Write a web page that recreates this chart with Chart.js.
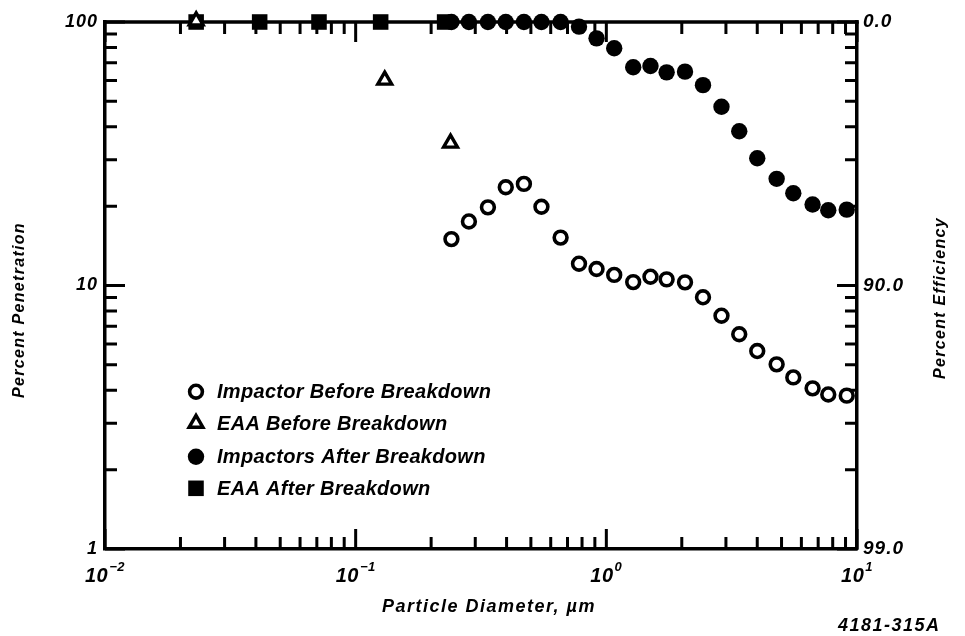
<!DOCTYPE html>
<html>
<head>
<meta charset="utf-8">
<script src="https://cdn.jsdelivr.net/npm/chart.js@4/dist/chart.umd.min.js"></script>
<style>
  html, body { margin: 0; padding: 0; background: #fff; }
  #wrap { width: 965px; height: 636px; position: relative; }
</style>
</head>
<body>
<div id="wrap"><canvas id="c" width="965" height="636"></canvas></div>
<script>
// Particle diameters (µm) for the cascade impactor stages
const particleSizes = [0.241, 0.283, 0.337, 0.397, 0.469, 0.551, 0.657, 0.778, 0.914, 1.075, 1.28, 1.50, 1.74, 2.06, 2.43, 2.88, 3.39, 4.00, 4.78, 5.57, 6.65, 7.68, 9.10];
// Percent penetration measured by impactors
const impactorBefore = [15.0, 17.5, 19.8, 23.6, 24.3, 19.9, 15.2, 12.1, 11.55, 10.97, 10.3, 10.8, 10.55, 10.28, 9.02, 7.68, 6.53, 5.64, 5.02, 4.48, 4.07, 3.86, 3.82];
const impactorAfter = [100, 100, 100, 100, 100, 100, 100, 96.0, 86.7, 79.5, 67.3, 68.1, 64.4, 64.8, 57.6, 47.7, 38.5, 30.4, 25.4, 22.4, 20.3, 19.3, 19.4];
// Electrical aerosol analyzer (EAA) channels
const eaaBeforeSizes = [0.0231, 0.1306, 0.239];
const eaaBefore = [101, 60.2, 34.7];
const eaaAfterSizes = [0.0231, 0.0414, 0.0714, 0.1258, 0.2264];
const eaaAfter = [100, 100, 100, 100, 100];

// Axis ticks
const xTickValues = [0.01, 0.1, 1, 10];
const xTickExponents = ['\u22122', '\u22121', '0', '1'];
const yTickValues = [1, 10, 100];
const penetrationLabels = ['1', '10', '100'];
const efficiencyLabels = ['99.0', '90.0', '0.0'];

const legendLabels = [
  'Impactor Before Breakdown',
  'EAA Before Breakdown',
  'Impactors After Breakdown',
  'EAA After Breakdown'
];

const INK = '#000';
const FAMILY = '"Liberation Sans", Arial, sans-serif';
const pts = (xs, ys) => xs.map((x, i) => ({ x: x, y: ys[i] }));

// all 1..9 x 10^k values inside [min, max]
function logSteps(min, max) {
  const out = [];
  for (let e = Math.floor(Math.log10(min)); e <= Math.ceil(Math.log10(max)); e++) {
    for (let m = 1; m <= 9; m++) {
      const v = m * Math.pow(10, e);
      if (v >= min * 0.9999 && v <= max * 1.0001) out.push({ v: v, major: m === 1 });
    }
  }
  return out;
}

const frameAndText = {
  id: 'frameAndText',
  beforeDraw(chart) {
    // slightly open tracking for the axis tick labels
    chart.ctx.letterSpacing = '1px';
  },
  beforeDatasetsDraw(chart) {
    const { ctx, chartArea: a, scales } = chart;
    const xs = scales.x, ys = scales.y;
    ctx.save();
    ctx.strokeStyle = INK;
    ctx.lineCap = 'butt';
    // top border
    ctx.lineWidth = 3.5;
    ctx.beginPath();
    ctx.moveTo(a.left - 1.75, a.top);
    ctx.lineTo(a.right + 1.75, a.top);
    ctx.stroke();
    // inward tick marks on all four sides
    ctx.lineWidth = 3;
    logSteps(0.01, 10).forEach(t => {
      const px = xs.getPixelForValue(t.v);
      const len = t.major ? 20 : 12;
      ctx.beginPath();
      ctx.moveTo(px, a.bottom); ctx.lineTo(px, a.bottom - len);
      ctx.moveTo(px, a.top); ctx.lineTo(px, a.top + len);
      ctx.stroke();
    });
    logSteps(1, 100).forEach(t => {
      const py = ys.getPixelForValue(t.v);
      const len = t.major ? 20 : 12;
      ctx.beginPath();
      ctx.moveTo(a.left, py); ctx.lineTo(a.left + len, py);
      ctx.moveTo(a.right, py); ctx.lineTo(a.right - len, py);
      ctx.stroke();
    });
    ctx.restore();
  },
  afterDraw(chart) {
    const { ctx, scales } = chart;
    const xs = scales.x;
    ctx.save();
    ctx.fillStyle = INK;
    ctx.textBaseline = 'alphabetic';
    // x tick labels: 10 with superscript exponent
    const baseFont = 'italic bold 20px ' + FAMILY;
    const expFont = 'italic bold 13px ' + FAMILY;
    ctx.letterSpacing = '0.5px';
    xTickValues.forEach((v, i) => {
      const px = xs.getPixelForValue(v);
      ctx.font = baseFont;
      const wb = ctx.measureText('10').width;
      ctx.font = expFont;
      const we = ctx.measureText(xTickExponents[i]).width;
      const x0 = px - (wb + we + 1) / 2;
      ctx.font = baseFont;
      ctx.textAlign = 'left';
      ctx.fillText('10', x0, 582);
      ctx.font = expFont;
      ctx.fillText(xTickExponents[i], x0 + wb + 1, 571);
    });
    // axis titles
    ctx.letterSpacing = '1.5px';
    ctx.font = 'italic bold 18px ' + FAMILY;
    ctx.textAlign = 'center';
    ctx.textBaseline = 'middle';
    ctx.fillText('Particle Diameter, \u00b5m', 489, 607);
    ctx.letterSpacing = '1.3px';
    ctx.save();
    ctx.translate(20, 310);
    ctx.rotate(-Math.PI / 2);
    ctx.font = 'italic bold 16px ' + FAMILY;
    ctx.fillText('Percent Penetration', 0, 0);
    ctx.restore();
    ctx.save();
    ctx.translate(941, 298);
    ctx.rotate(-Math.PI / 2);
    ctx.font = 'italic bold 16px ' + FAMILY;
    ctx.fillText('Percent Efficiency', 0, 0);
    ctx.restore();
    // figure number
    ctx.letterSpacing = '1.5px';
    ctx.font = 'italic bold 18px ' + FAMILY;
    ctx.textAlign = 'left';
    ctx.fillText('4181-315A', 838, 626);
    // legend
    ctx.letterSpacing = '0.3px';
    const rows = [391.7, 423.3, 456.7, 488.3];
    chart.data.datasets.forEach((ds, i) => {
      ctx.save();
      ctx.fillStyle = ds.backgroundColor;
      ctx.strokeStyle = ds.borderColor;
      ctx.lineWidth = ds.borderWidth;
      Chart.helpers.drawPoint(ctx, {
        pointStyle: ds.pointStyle,
        radius: ds.pointRadius,
        borderWidth: ds.borderWidth,
        rotation: 0
      }, 196, rows[i]);
      ctx.restore();
      ctx.font = 'italic bold 20px ' + FAMILY;
      ctx.textAlign = 'left';
      ctx.textBaseline = 'middle';
      ctx.fillStyle = INK;
      ctx.fillText(legendLabels[i], 217, rows[i] + 1);
    });
    ctx.restore();
    ctx.letterSpacing = '0px';
  }
};

const tickFont = { family: FAMILY, size: 18, style: 'italic', weight: 'bold' };

new Chart(document.getElementById('c'), {
  type: 'scatter',
  data: {
    datasets: [
      {
        label: legendLabels[0],
        data: pts(particleSizes, impactorBefore),
        pointStyle: 'circle', pointRadius: 6.4, borderWidth: 3.6,
        backgroundColor: '#fff', borderColor: INK, clip: false
      },
      {
        label: legendLabels[1],
        data: pts(eaaBeforeSizes, eaaBefore),
        pointStyle: 'triangle', pointRadius: 8, borderWidth: 3.4,
        backgroundColor: '#fff', borderColor: INK, clip: false
      },
      {
        label: legendLabels[2],
        data: pts(particleSizes, impactorAfter),
        pointStyle: 'circle', pointRadius: 8.2, borderWidth: 0,
        backgroundColor: INK, borderColor: INK, clip: false
      },
      {
        label: legendLabels[3],
        data: pts(eaaAfterSizes, eaaAfter),
        pointStyle: 'rect', pointRadius: 11, borderWidth: 0,
        backgroundColor: INK, borderColor: INK, clip: false
      }
    ]
  },
  options: {
    responsive: false,
    animation: false,
    devicePixelRatio: 1,
    layout: { padding: { top: 22, left: 0, right: 0, bottom: 0 } },
    plugins: { legend: { display: false }, tooltip: { enabled: false } },
    elements: { point: { hoverRadius: 8 } },
    scales: {
      x: {
        type: 'logarithmic', position: 'bottom', min: 0.01, max: 10,
        grid: { display: false, drawTicks: false },
        border: { display: true, width: 3.5, color: INK },
        ticks: { display: false },
        afterFit: s => { s.height = 87; }
      },
      y: {
        type: 'logarithmic', position: 'left', min: 1, max: 100,
        grid: { display: false, drawTicks: false },
        border: { display: true, width: 3.5, color: INK },
        afterBuildTicks: s => { s.ticks = yTickValues.map(v => ({ value: v })); },
        ticks: {
          color: INK, font: tickFont, padding: 7,
          callback: v => penetrationLabels[yTickValues.indexOf(v)]
        },
        afterFit: s => { s.width = 105; }
      },
      y2: {
        type: 'logarithmic', position: 'right', min: 1, max: 100,
        grid: { display: false, drawTicks: false },
        border: { display: true, width: 3.5, color: INK },
        afterBuildTicks: s => { s.ticks = yTickValues.map(v => ({ value: v })); },
        ticks: {
          color: INK, font: { family: FAMILY, size: 19, style: 'italic', weight: 'bold' }, padding: 6,
          callback: v => efficiencyLabels[yTickValues.indexOf(v)]
        },
        afterFit: s => { s.width = 108; }
      }
    }
  },
  plugins: [frameAndText]
});
</script>
</body>
</html>
